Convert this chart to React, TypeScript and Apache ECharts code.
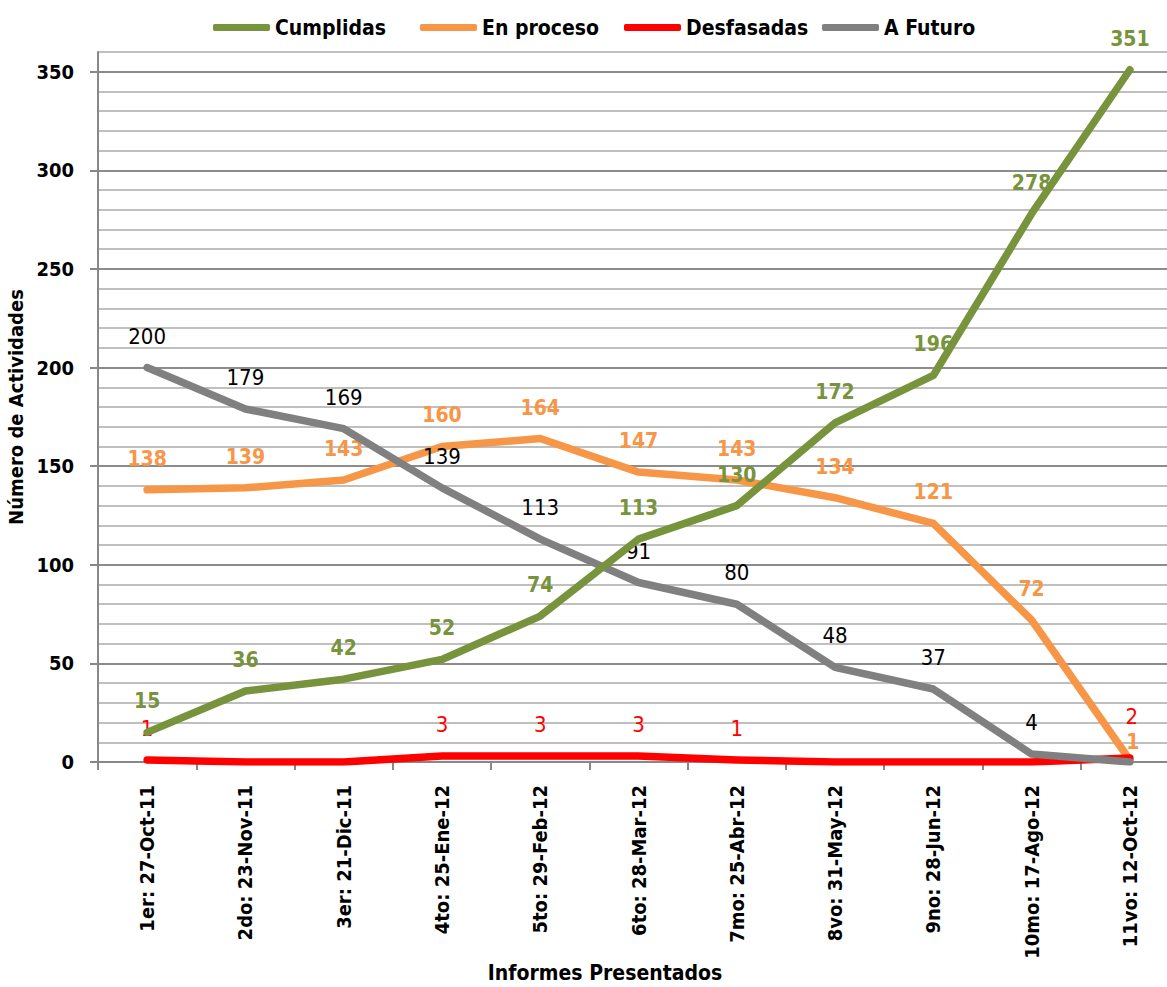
import React, { useEffect, useRef } from "react";
import * as echarts from "echarts";

const categories = [
  "1er: 27-Oct-11",
  "2do: 23-Nov-11",
  "3er: 21-Dic-11",
  "4to: 25-Ene-12",
  "5to: 29-Feb-12",
  "6to: 28-Mar-12",
  "7mo: 25-Abr-12",
  "8vo: 31-May-12",
  "9no: 28-Jun-12",
  "10mo: 17-Ago-12",
  "11vo: 12-Oct-12",
];
const cumplidas = [15, 36, 42, 52, 74, 113, 130, 172, 196, 278, 351];
const enProceso = [138, 139, 143, 160, 164, 147, 143, 134, 121, 72, 1];
const desfasadas = [1, 0, 0, 3, 3, 3, 1, 0, 0, 0, 2];
const aFuturo = [200, 179, 169, 139, 113, 91, 80, 48, 37, 4, 0];
const yTickLabels = [0, 50, 100, 150, 200, 250, 300, 350];

const FONT = "'Liberation Sans Narrow', 'Arial Narrow', 'DejaVu Sans Condensed', sans-serif";

export default function App() {
  const ref = useRef<HTMLDivElement>(null);
  useEffect(() => {
    document.body.style.margin = "0";
    const chart = echarts.init(ref.current!, null, { renderer: "svg" });

    const mk = (
      name: string,
      values: number[],
      color: string,
      labelColor: string,
      bold: boolean,
      z: number,
      lastOffset?: [number, number]
    ) => ({
      name,
      type: "line",
      z,
      symbol: "circle",
      symbolSize: 1,
      showSymbol: true,
      itemStyle: { color },
      lineStyle: { color, width: 7.5, cap: "round", join: "round" },
      label: {
        show: true,
        position: "top",
        distance: 20,
        color: labelColor,
        fontFamily: FONT,
        fontSize: bold ? 21 : 22,
        fontWeight: bold ? "bold" : "normal",
        formatter: (p: any) => (p.value === 0 ? "" : String(p.value)),
      },
      data: values.map((v, i) =>
        lastOffset && i === values.length - 1
          ? { value: v, label: { offset: lastOffset } }
          : v
      ),
    });

    const legendBase = {
      top: 17,
      padding: 0,
      icon: "roundRect",
      itemWidth: 57,
      itemHeight: 7,
      textStyle: { fontFamily: FONT, fontSize: 21, fontWeight: "bold", color: "#000" },
      selectedMode: false,
    };

    chart.setOption({
      animation: false,
      backgroundColor: "#fff",
      grid: {
        left: 98,
        right: -12,
        top: 52,
        bottom: 225,
        containLabel: false,
        outerBoundsMode: "none",
      },
      legend: [
        { ...legendBase, left: 213, data: ["Cumplidas"] },
        { ...legendBase, left: 420, data: ["En proceso"] },
        { ...legendBase, left: 624, data: ["Desfasadas"] },
        { ...legendBase, left: 822, data: ["A Futuro"] },
      ],
      xAxis: {
        type: "category",
        data: categories,
        boundaryGap: true,
        axisLine: { show: true, lineStyle: { color: "#888", width: 2 } },
        axisTick: { show: true, length: 8, lineStyle: { color: "#888", width: 2 } },
        axisLabel: {
          rotate: 90,
          margin: 23,
          interval: 0,
          color: "#000",
          fontFamily: FONT,
          fontSize: 20,
          fontWeight: "bold",
        },
        splitLine: { show: false },
      },
      yAxis: [
        {
          type: "value",
          min: 0,
          max: 360,
          interval: 10,
          position: "left",
          axisLine: { show: false },
          axisTick: { show: false },
          axisLabel: { show: false },
          splitLine: { show: true, lineStyle: { color: "#bfbfbf", width: 2 } },
        },
        {
          type: "value",
          min: 0,
          max: 360,
          interval: 50,
          position: "left",
          name: "Número de Actividades",
          nameLocation: "middle",
          nameGap: 68,
          nameTextStyle: { color: "#000", fontFamily: FONT, fontSize: 20, fontWeight: "bold" },
          axisLine: { show: true, lineStyle: { color: "#888", width: 2 } },
          axisTick: {
            show: true,
            length: 8,
            lineStyle: { color: "#888", width: 2 },
            customValues: yTickLabels,
          },
          axisLabel: {
            show: true,
            margin: 24,
            color: "#000",
            fontFamily: FONT,
            fontSize: 20,
            fontWeight: "bold",
            customValues: yTickLabels,
          },
          splitLine: { show: true, lineStyle: { color: "#8c8c8c", width: 2 } },
        },
      ],
      graphic: [
        {
          type: "text",
          x: 605,
          y: 973,
          style: {
            text: "Informes Presentados",
            fill: "#000",
            font: `bold 21px ${FONT}`,
            textAlign: "center",
            textVerticalAlign: "middle",
          },
        },
      ],
      series: [
        mk("En proceso", enProceso, "#F79646", "#F79646", true, 2, [3, 13]),
        mk("Desfasadas", desfasadas, "#FF0000", "#FF0000", false, 3, [2, -10]),
        mk("A Futuro", aFuturo, "#808080", "#000000", false, 4),
        mk("Cumplidas", cumplidas, "#77933C", "#77933C", true, 5),
      ],
    });
    return () => chart.dispose();
  }, []);
  return <div ref={ref} style={{ width: 1167, height: 987 }} />;
}
